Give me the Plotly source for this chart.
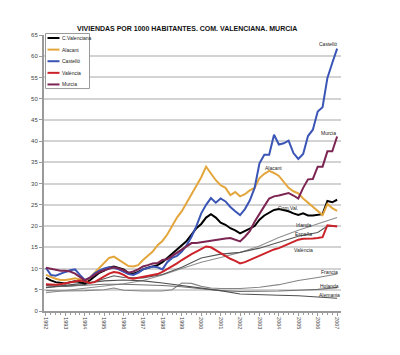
import plotly.graph_objects as go

# ---------------- data ----------------
title_text = "VIVIENDAS POR 1000 HABITANTES. COM. VALENCIANA. MURCIA"

year_ticks = list(range(1992, 2008))
quarters = [y + q / 4 for y in range(1992, 2007) for q in range(4)] + [2007.0]

c_valenciana = [7.8, 7.2, 6.8, 6.6, 6.5, 6.8, 7.0, 6.8, 6.5, 7.2, 8.0, 9.0,
                9.5, 10.2, 10.5, 10.2, 9.8, 9.0, 8.8, 9.2, 9.8, 10.2, 10.5, 10.8,
                11.5, 12.5, 13.5, 14.5, 15.5, 16.5, 18.0, 19.5, 20.5, 22.0, 22.8, 22.0,
                20.8, 20.3, 19.5, 19.0, 18.3, 18.8, 19.4, 20.0, 21.5, 22.5, 23.2, 23.8,
                24.0, 23.8, 23.5, 23.0, 22.6, 23.0, 22.5, 22.5, 22.6, 22.8, 25.9, 25.6,
                26.2]
alacant = [8.5, 8.0, 7.6, 7.3, 7.3, 7.5, 7.7, 7.4, 7.0, 7.8, 9.0, 10.0,
           11.2, 12.5, 12.8, 12.0, 11.3, 10.6, 10.5, 10.8, 12.0, 13.0, 14.0, 15.5,
           16.5, 18.0, 20.0, 22.0, 23.5, 25.5, 27.5, 29.5, 31.5, 34.0, 32.5, 30.8,
           29.6, 29.0, 27.3, 28.0, 27.0, 27.5, 28.4, 29.0, 31.3, 32.3, 33.0, 32.5,
           31.8, 30.5, 29.0, 28.2, 27.7, 26.5, 25.5, 24.5, 23.5, 22.6, 25.2, 24.2,
           23.6]
castello = [10.2, 8.5, 8.3, 8.8, 9.2, 9.6, 9.8, 8.5, 7.3, 7.8, 8.8, 9.5,
            10.0, 10.3, 10.2, 9.8, 9.2, 8.7, 8.5, 9.0, 9.8, 10.2, 10.5, 10.3,
            9.8, 11.5, 12.5, 13.0, 14.0, 15.5, 17.5, 20.0, 23.0, 25.0, 26.6, 25.5,
            26.5, 25.8, 24.5, 23.5, 22.6, 24.0, 26.0, 29.0, 34.8, 36.8, 36.8, 41.5,
            39.2, 39.5, 40.1, 37.2, 35.8, 37.0, 41.2, 42.7, 47.0, 48.0, 54.9, 58.4,
            61.8]
valencia = [6.3, 6.2, 6.2, 6.3, 6.5, 6.8, 7.0, 7.2, 7.0, 6.6, 6.8, 7.5,
            8.2, 8.8, 9.2, 9.0, 8.5, 7.8, 7.6, 7.8, 8.0, 8.2, 8.5, 8.7,
            9.2, 9.8, 10.5, 11.2, 12.0, 12.8, 13.4, 14.0, 14.6, 15.2, 15.0, 14.3,
            13.6, 13.0, 12.3, 11.8, 11.2, 11.5, 12.0, 12.5, 12.9, 13.5, 14.0, 14.5,
            14.8, 15.3, 15.8, 16.3, 16.8, 17.0, 17.0, 17.1, 17.2, 17.4, 20.2, 20.0,
            19.9]
murcia = [10.2, 10.0, 9.8, 9.5, 9.5, 9.3, 8.8, 8.0, 7.2, 7.8, 8.5, 9.2,
          9.6, 10.0, 10.3, 10.0, 9.6, 9.0, 9.3, 9.8, 10.5, 10.8, 11.2, 11.3,
          12.0, 12.2, 13.0, 13.8, 14.5, 15.2, 16.0, 16.0, 16.2, 16.4, 16.6, 16.8,
          17.0, 17.1, 17.2, 16.8, 16.4, 17.5, 18.8, 21.0, 23.0, 24.7, 26.5, 27.0,
          27.2, 27.5, 27.8, 27.2, 26.5, 29.0, 31.0, 31.1, 34.0, 34.0, 37.6, 37.6,
          41.1]

irlanda_x = list(range(1992, 2008))
irlanda = [4.3, 4.8, 5.3, 5.9, 6.4, 7.2, 8.5, 10.0, 11.5, 12.6, 13.8, 15.3, 17.3, 19.0, 20.5, 22.0]
espana_x = [1992, 1993, 1994, 1995, 1995.5, 1996, 1997, 1998, 1999, 2000, 2001, 2002, 2003, 2004, 2005, 2006, 2006.5, 2007]
espana = [6.0, 5.8, 6.2, 7.6, 8.3, 7.9, 7.8, 8.6, 10.3, 12.5, 13.4, 13.8, 14.8, 16.2, 17.6, 18.5, 20.0, 20.0]
francia_x = [1992, 1993, 1994, 1995, 1995.5, 1996, 1997, 1998, 1998.5, 1999, 1999.5, 2000, 2000.5, 2001, 2002, 2003, 2004, 2005, 2006, 2007]
francia = [4.8, 4.7, 4.8, 5.0, 5.4, 4.9, 4.7, 4.7, 5.0, 6.6, 6.5, 5.8, 5.4, 5.3, 5.3, 5.6, 6.2, 7.2, 7.9, 8.7]
holanda_x = list(range(1992, 2008))
holanda = [5.6, 5.8, 6.0, 6.3, 6.3, 6.2, 6.0, 5.7, 5.2, 4.8, 4.6, 4.6, 4.7, 4.9, 5.1, 5.5]
alemania_x = list(range(1992, 2008))
alemania = [5.5, 6.0, 6.6, 7.1, 7.3, 7.1, 6.6, 6.0, 5.5, 4.8, 4.0, 3.8, 3.7, 3.6, 3.3, 3.0]

main_names = ["C.Valenciana", "Alacant", "Castelló", "València", "Murcia"]
main_values = [c_valenciana, alacant, castello, valencia, murcia]
main_colors = ["#000000", "#E3A63C", "#3A55B5", "#CC2229", "#7C2553"]

gray_names = ["Irlanda", "España", "Francia", "Holanda", "Alemania"]
gray_x = [irlanda_x, espana_x, francia_x, holanda_x, alemania_x]
gray_values = [irlanda, espana, francia, holanda, alemania]
gray_colors = ["#8f8f8f", "#555555", "#858585", "#6f6f6f", "#505050"]

# in-chart labels
label_text = ["Castelló", "Murcia", "Alacant", "Com.Val.", "Irlanda", "España", "València", "Francia", "Holanda", "Alemania"]
label_x = [2006.55, 2006.55, 2003.7, 2004.47, 2005.27, 2005.25, 2005.25, 2006.59, 2006.6, 2006.6]
label_y = [62.9, 41.9, 33.7, 24.2, 20.2, 18.1, 14.4, 9.3, 6.0, 3.7]

# ---------------- figure ----------------
fig = go.Figure()

for n, xs, ys, c in zip(gray_names, gray_x, gray_values, gray_colors):
    fig.add_trace(go.Scatter(x=xs, y=ys, mode="lines", name=n, showlegend=False,
                             line=dict(color=c, width=1.1)))

for n, ys, c in zip(main_names, main_values, main_colors):
    fig.add_trace(go.Scatter(x=quarters, y=ys, mode="lines", name=n, showlegend=False,
                             line=dict(color=c, width=2)))

for t, x, y in zip(label_text, label_x, label_y):
    fig.add_annotation(x=x, y=y, text=t, showarrow=False, xref="x", yref="y",
                       font=dict(family="Arial, Liberation Sans", size=5, color="#222222"))

# title
fig.add_annotation(x=0.48, y=1.0, xref="paper", yref="paper", yshift=12,
                   text="<b>" + title_text + "</b>", showarrow=False,
                   font=dict(family="Arial, Liberation Sans", size=7, color="#111111"))

# manual legend (pixel layout converted to paper coords)
L, T, W, H = 36, 27, 297, 275.7
def px(xp):
    return (xp - L) / W
def py(yp):
    return (T + H - yp) / H

fig.add_shape(type="rect", xref="paper", yref="paper",
              x0=px(37.5), x1=px(81.5), y0=py(80.5), y1=py(25.5),
              line=dict(color="#9a9a9a", width=1), fillcolor="white", layer="above")
for i, (n, c) in enumerate(zip(main_names, main_colors)):
    yy = 30 + i * 11.6
    fig.add_shape(type="line", xref="paper", yref="paper",
                  x0=px(39.5), x1=px(51.5), y0=py(yy), y1=py(yy),
                  line=dict(color=c, width=2), layer="above")
    fig.add_annotation(x=px(52), y=py(yy), xref="paper", yref="paper", text=n,
                       showarrow=False, xanchor="left", yanchor="middle",
                       font=dict(family="Arial, Liberation Sans", size=5, color="#222222"))

fig.update_layout(
    width=400, height=355,
    margin=dict(l=36, r=67, t=27, b=52, pad=0),
    paper_bgcolor="white", plot_bgcolor="white",
    showlegend=False,
    font=dict(family="Arial, Liberation Sans", color="#444444"),
)
fig.update_xaxes(range=[1991.9, 2007.2], tickmode="array", tickvals=year_ticks,
                 ticktext=[str(y) for y in year_ticks], tickangle=90,
                 tickfont=dict(size=5.5, color="#444444"),
                 showgrid=False, zeroline=False, showline=True, linecolor="#9a9a9a", linewidth=2,
                 ticks="outside", ticklen=3, tickcolor="#9a9a9a",
                 minor=dict(dtick=0.25, ticks="outside", ticklen=2, tickcolor="#9a9a9a", showgrid=False))
fig.update_yaxes(range=[0, 65], dtick=5, tickfont=dict(size=6, color="#444444"),
                 showgrid=True, gridcolor="#d3d3d3", gridwidth=1.5, zeroline=False,
                 showline=True, linecolor="#9a9a9a", linewidth=2,
                 ticks="outside", ticklen=3, tickcolor="#9a9a9a")

fig.write_html("out.html")
